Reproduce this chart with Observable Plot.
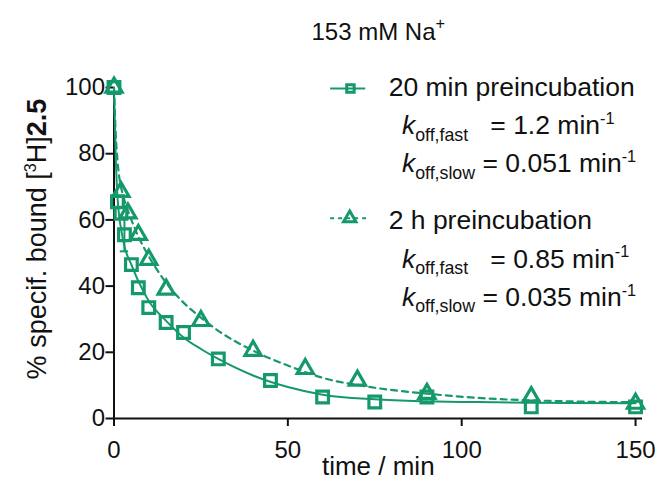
<!DOCTYPE html>
<html><head><meta charset="utf-8">
<script src="https://cdn.jsdelivr.net/npm/d3@7"></script>
<script src="https://cdn.jsdelivr.net/npm/@observablehq/plot@0.6"></script>
<style>body{margin:0;background:#fff}svg{display:block}</style>
</head><body><div id="chart"></div>
<script>
// 20 min preincubation (squares)
const sqTime  = [0, 1, 2, 3, 5, 7, 10, 15, 20, 30, 45, 60, 75, 90, 120, 150];
const sqBound = [100, 65.5, 62, 55.5, 46.5, 39.5, 33.5, 29, 26, 18, 11.5, 6.5, 5, 6.5, 3.5, 3.5];
const sqErr   = [0, 0, 0, 5, 0, 0, 0, 0, 0, 0, 0, 0, 0, 0, 0, 0];
// 2 h preincubation (triangles)
const triTime  = [0, 2, 4, 7, 10, 15, 25, 40, 55, 70, 90, 120, 150];
const triBound = [100, 68.5, 62, 55.5, 48, 39, 29.5, 20.5, 15, 11.5, 7.5, 6.5, 4.5];
// fitted curves
const fit20Time  = [0, 0.5, 1, 1.5, 2, 3, 5, 7, 10, 15, 20, 25, 30, 40, 50, 60, 75, 90, 110, 130, 150];
const fit20Bound = [100, 79, 67, 61, 57.5, 52, 46.5, 41.5, 35.5, 29.5, 24.5, 21, 18, 13, 9.5, 7.2, 5.8, 5.2, 4.9, 4.7, 4.6];
const fit2hTime  = [0, 0.5, 1, 1.5, 2, 3, 5, 7, 10, 15, 20, 25, 30, 40, 50, 60, 75, 90, 110, 130, 150];
const fit2hBound = [100, 86, 78, 73, 70, 66, 60, 55, 49, 41, 35, 30.5, 26.5, 20.5, 16, 12.3, 9.3, 7.5, 5.9, 5.2, 4.9];
// ticks
const xTicks = [0, 50, 100, 150];
const yTicks = [0, 20, 40, 60, 80, 100];
// texts
const titleText = "153 mM Na<sup>+</sup>";
const xLabel = "time / min";
const yLabel = "% specif. bound [<sup>3</sup>H]<b>2.5</b>";
const legendNames = ["20 min preincubation", "2 h preincubation"];
const legendRates = [
  ["<i>k</i><sub>off,fast</sub>   = 1.2 min<sup>-1</sup>", "<i>k</i><sub>off,slow</sub> = 0.051 min<sup>-1</sup>"],
  ["<i>k</i><sub>off,fast</sub>   = 0.85 min<sup>-1</sup>", "<i>k</i><sub>off,slow</sub> = 0.035 min<sup>-1</sup>"]
];

const green = "#16996a";
const sq = sqTime.map((t, i) => ({t, y: sqBound[i], e: sqErr[i]}));
const tri = triTime.map((t, i) => ({t, y: triBound[i]}));
const fit20 = fit20Time.map((t, i) => ({t, y: fit20Bound[i]}));
const fit2h = fit2hTime.map((t, i) => ({t, y: fit2hBound[i]}));
const errs = sq.filter(d => d.e > 0);

const FS = 24;
const font = "'Liberation Sans', Arial, sans-serif";

const chart = Plot.plot({
  width: 660, height: 493,
  marginLeft: 113.5, marginRight: 18, marginTop: 87, marginBottom: 75,
  style: {fontFamily: font, fontSize: FS + "px", color: "#111", background: "#fff"},
  x: {domain: [0, 152]},
  y: {domain: [0, 100]},
  marks: [
    Plot.axisX({ticks: xTicks, tickSize: 8, tickPadding: 14, strokeWidth: 2, label: null, tickFormat: d => String(d)}),
    Plot.axisY({ticks: yTicks, tickSize: 8, tickPadding: 1, strokeWidth: 2, label: null, tickFormat: d => String(d)}),
    Plot.ruleY([0], {strokeWidth: 2, stroke: "#111"}),
    Plot.ruleX([0], {strokeWidth: 2, stroke: "#111"}),
    Plot.line(fit20, {x: "t", y: "y", stroke: green, strokeWidth: 2, curve: "monotone-x"}),
    Plot.line(fit2h, {x: "t", y: "y", stroke: green, strokeWidth: 2.2, strokeDasharray: "6,5", curve: "monotone-x"}),
    Plot.ruleX(errs, {x: "t", y1: d => d.y - d.e, y2: d => d.y + d.e, stroke: green, strokeWidth: 2}),
    Plot.ruleY(errs, {y: d => d.y - d.e, x1: d => d.t - 1.2, x2: d => d.t + 1.2, stroke: green, strokeWidth: 2}),
    Plot.ruleY(errs, {y: d => d.y + d.e, x1: d => d.t - 1.2, x2: d => d.t + 1.2, stroke: green, strokeWidth: 2}),
    Plot.dot(sq, {x: "t", y: "y", symbol: "square", r: 6.6, stroke: green, strokeWidth: 3.2, fill: "none"}),
    Plot.dot(tri, {x: "t", y: "y", symbol: "triangle", r: 6, stroke: green, strokeWidth: 3.2, fill: "none"}),
    // legend: 20 min
    Plot.ruleY([99.7], {x1: 62.3, x2: 72.4, stroke: green, strokeWidth: 2}),
    Plot.dot([{t: 68, y: 99.7}], {x: "t", y: "y", symbol: "square", r: 4.2, stroke: green, strokeWidth: 3, fill: "none"}),
    Plot.text([legendNames[0]], {x: 79, y: 97.4, text: d => d, textAnchor: "start", lineAnchor: "bottom", fontSize: FS + 2.5}),
    Plot.text(legendRates[0], {x: 82.8, y: (d, i) => [86.0, 74.4][i], text: d => d, textAnchor: "start", lineAnchor: "bottom", fontSize: FS + 2.5}),
    // legend: 2 h
    Plot.ruleY([60.5], {x1: 62.3, x2: 73.5, stroke: green, strokeWidth: 2, strokeDasharray: "4,4"}),
    Plot.dot([{t: 67.8, y: 60.5}], {x: "t", y: "y", symbol: "triangle", r: 4.6, stroke: green, strokeWidth: 3, fill: "none"}),
    Plot.text([legendNames[1]], {x: 79, y: 57.2, text: d => d, textAnchor: "start", lineAnchor: "bottom", fontSize: FS + 2.5}),
    Plot.text(legendRates[1], {x: 82.8, y: (d, i) => [45.6, 34.1][i], text: d => d, textAnchor: "start", lineAnchor: "bottom", fontSize: FS + 2.5}),
    // title & axis labels
    Plot.text([titleText], {frameAnchor: "top", dy: -48, text: d => d, lineAnchor: "bottom", fontSize: FS}),
    Plot.text([xLabel], {frameAnchor: "bottom", dy: 56, text: d => d, lineAnchor: "bottom", fontSize: FS + 2}),
    Plot.text([yLabel], {frameAnchor: "left", dx: -77, dy: -14, rotate: -90, text: d => d, textAnchor: "middle", lineAnchor: "middle", fontSize: FS + 3})
  ]
});

// rich text: <i>, <b>, <sub>, <sup>
function richify(textEl) {
  const raw = textEl.textContent;
  if (!raw.includes("<")) return;
  const fs = parseFloat(textEl.getAttribute("font-size")) || FS;
  while (textEl.firstChild) textEl.removeChild(textEl.firstChild);
  const parts = raw.split(/(<\/?(?:i|b|sub|sup)>)/);
  let italic = false, bold = false, mode = "normal", shift = 0;
  for (const p of parts) {
    if (!p) continue;
    if (p === "<i>") { italic = true; continue; }
    if (p === "</i>") { italic = false; continue; }
    if (p === "<b>") { bold = true; continue; }
    if (p === "</b>") { bold = false; continue; }
    if (p === "<sub>") { mode = "sub"; continue; }
    if (p === "<sup>") { mode = "sup"; continue; }
    if (p === "</sub>" || p === "</sup>") { mode = "normal"; continue; }
    const ts = document.createElementNS("http://www.w3.org/2000/svg", "tspan");
    let target = 0;
    if (mode === "sub") { target = 0.28 * fs; ts.setAttribute("font-size", (0.74 * fs).toFixed(1)); }
    else if (mode === "sup") { target = -0.42 * fs; ts.setAttribute("font-size", (0.68 * fs).toFixed(1)); }
    const d = target - shift;
    if (d !== 0) ts.setAttribute("dy", d.toFixed(1));
    shift = target;
    if (italic) ts.setAttribute("font-style", "italic");
    if (bold) ts.setAttribute("font-weight", "bold");
    ts.textContent = p;
    textEl.appendChild(ts);
  }
}
chart.querySelectorAll("text").forEach(richify);
chart.setAttribute("style", chart.getAttribute("style") + ";white-space:pre");
document.getElementById("chart").appendChild(chart);
</script>
</body></html>
